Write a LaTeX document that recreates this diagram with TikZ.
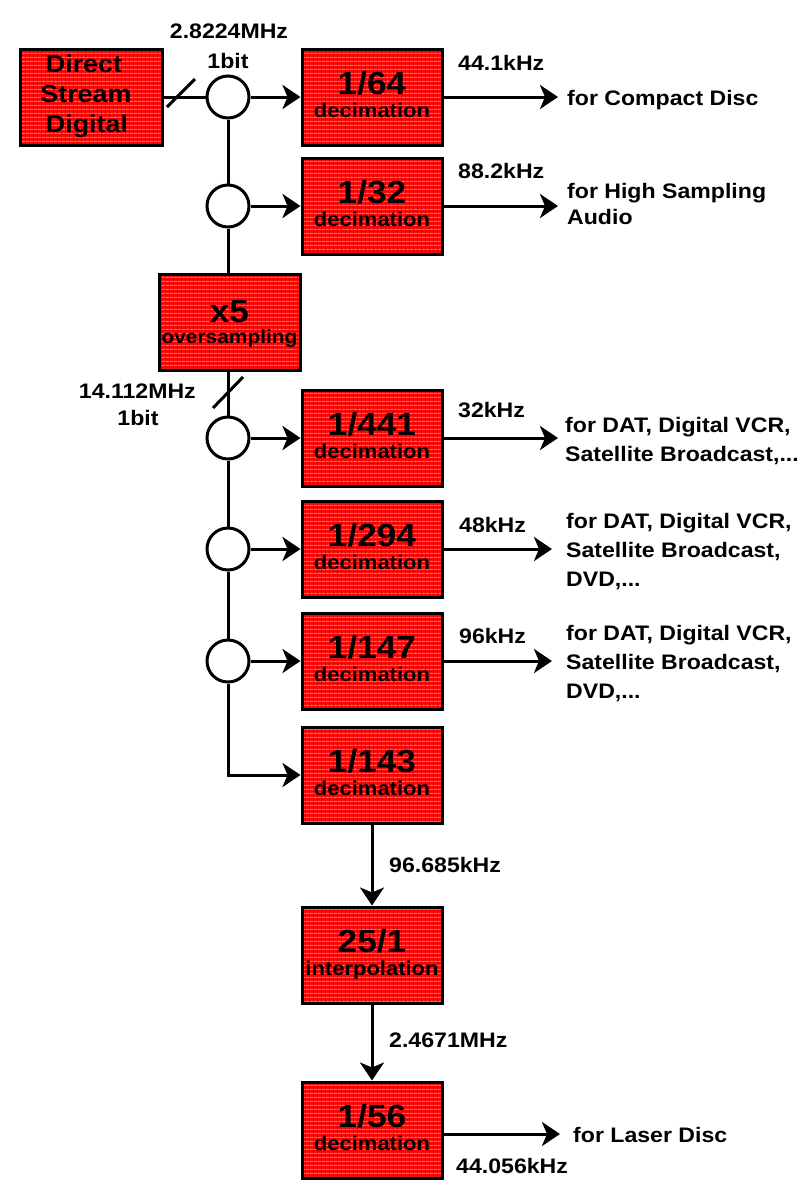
\documentclass[tikz,border=0pt]{standalone}
\usepackage{fontspec}
\setmainfont{Liberation Sans}[FakeStretch=1.1]
\usetikzlibrary{arrows.meta,patterns.meta,calc}
\tikzset{
  blk/.style={draw, line width=3pt, preaction={fill=red},
    pattern={Lines[angle=0,distance=4pt,line width=1.2pt]}, pattern color=gray!80,
    minimum width=140pt, minimum height=96pt, inner sep=0pt},
  circ/.style={circle, draw, line width=3pt, fill=white, minimum size=42pt, inner sep=0pt},
  ln/.style={line width=3pt},
  arr/.style={line width=3pt, -{Stealth[length=18pt,width=24pt,inset=5pt]}},
  ttl/.style={font=\fontsize{32}{32}\selectfont\bfseries, inner sep=0pt, anchor=base},
  sub/.style={font=\fontsize{20}{20}\selectfont\bfseries, inner sep=0pt, anchor=base},
  dsdt/.style={font=\fontsize{24.5}{24.5}\selectfont\bfseries, inner sep=0pt, anchor=base},
  lbl/.style={font=\fontsize{21}{21}\selectfont\bfseries, inner sep=0pt},
  rtx/.style={font=\fontsize{21}{21}\selectfont\bfseries, inner sep=0pt, anchor=base west},
}
\newcommand{\dbox}[5]{%
  \node[blk] (#1) at (#2,#3) {};
  \node[ttl] (#1t) at ($(#1.center)+(0,-2.5)$) {#4};
  \node[sub] (#1s) at ($(#1.center)+(0,20.5)$) {#5};
}
\begin{document}
\begin{tikzpicture}[x=1pt,y=-1pt]
\useasboundingbox[fill=white] (0,0) rectangle (800,1189);
% source
\node[blk, minimum width=142pt] (dsd) at (91,97) {};
\node[dsdt] (dsd1) at ($(dsd.center)+(-7,-25)$) {Direct};
\node[dsdt] (dsd2) at ($(dsd.center)+(-5,5)$) {Stream};
\node[dsdt] (dsd3) at ($(dsd.center)+(-4,35)$) {Digital};
% blocks
\dbox{b64}{372}{97}{1/64}{decimation}
\dbox{b32}{372}{206}{1/32}{decimation}
\node[blk, minimum width=141pt] (x5) at (229.5,322) {};
\node[ttl] (x5t) at ($(x5.center)+(0,0.5)$) {x5};
\node[sub, font=\fontsize{19}{19}\selectfont\bfseries] (x5s) at ($(x5.center)+(0,21)$) {oversampling};
\dbox{b441}{372}{438}{1/441}{decimation}
\dbox{b294}{372}{549}{1/294}{decimation}
\dbox{b147}{372}{661}{1/147}{decimation}
\dbox{b143}{372}{775}{1/143}{decimation}
\dbox{b25}{372}{955}{25/1}{interpolation}
\dbox{b56}{372}{1130}{1/56}{decimation}
% junctions
\node[circ] (c1) at (228,97) {};
\node[circ] (c2) at (228,206) {};
\node[circ] (c3) at (228,438) {};
\node[circ] (c4) at (228,549) {};
\node[circ] (c5) at (228,661) {};
% connectors
\draw[ln] (dsd.east) -- (c1.west);
\coordinate (s1a) at (167,107); \coordinate (s1b) at (195,79);
\draw[ln] (s1a) -- (s1b);
\draw[arr] (c1.east) -- (b64.west);
\draw[ln] (c1.south) -- (c2.north);
\draw[arr] (c2.east) -- (b32.west);
\draw[ln] (c2.south) -- (c2.south |- x5.north);
\draw[ln] (c3.north |- x5.south) -- (c3.north);
\coordinate (s2a) at (213,408); \coordinate (s2b) at (243,377);
\draw[ln] (s2a) -- (s2b);
\draw[arr] (c3.east) -- (b441.west);
\draw[ln] (c3.south) -- (c4.north);
\draw[arr] (c4.east) -- (b294.west);
\draw[ln] (c4.south) -- (c5.north);
\draw[arr] (c5.east) -- (b147.west);
\draw[arr] (c5.south) |- (b143.west);
\draw[arr] (b143.south) -- (b25.north);
\draw[arr] (b25.south) -- (b56.north);
% outputs
\coordinate (o64) at (558,97);
\coordinate (o32) at (558,206);
\coordinate (o441) at (558,438);
\coordinate (o294) at (552,549);
\coordinate (o147) at (552,661);
\coordinate (o56s) at (442,1134);
\coordinate (o56) at (560,1134);
\draw[arr] (b64.east) -- (o64);
\draw[arr] (b32.east) -- (o32);
\draw[arr] (b441.east) -- (o441);
\draw[arr] (b294.east) -- (o294);
\draw[arr] (b147.east) -- (o147);
\draw[arr] (o56s) -- (o56);
% labels
\node[lbl, anchor=base] (f1) at (229,38) {2.8224MHz};
\node[lbl, anchor=base] (f1b) at (228,68) {1bit};
\node[lbl, anchor=base east] (f2) at (196,398) {14.112MHz};
\node[lbl, anchor=base] (f2b) at (138,425) {1bit};
\node[lbl, anchor=base west] (l64) at (458,70) {44.1kHz};
\node[lbl, anchor=base west] (l32) at (458,178) {88.2kHz};
\node[lbl, anchor=base west] (l441) at (458,417) {32kHz};
\node[lbl, anchor=base west] (l294) at (459,532) {48kHz};
\node[lbl, anchor=base west] (l147) at (459,643) {96kHz};
\node[lbl, anchor=base west] (l143) at (389,872) {96.685kHz};
\node[lbl, anchor=base west] (l25) at (389,1047) {2.4671MHz};
\node[lbl, anchor=base west] (l56) at (456,1173) {44.056kHz};
% destinations
\node[rtx] (d64) at (567,105) {for Compact Disc};
\node[rtx] (d32a) at (567,198) {for High Sampling};
\node[rtx] (d32b) at (567,224) {Audio};
\node[rtx] (d441a) at (565,432) {for DAT, Digital VCR,};
\node[rtx] (d441b) at (565,461) {Satellite Broadcast,...};
\node[rtx] (d294a) at (566,528) {for DAT, Digital VCR,};
\node[rtx] (d294b) at (566,557) {Satellite Broadcast,};
\node[rtx] (d294c) at (566,586) {DVD,...};
\node[rtx] (d147a) at (566,640) {for DAT, Digital VCR,};
\node[rtx] (d147b) at (566,669) {Satellite Broadcast,};
\node[rtx] (d147c) at (566,698) {DVD,...};
\node[rtx] (d56) at (573,1142) {for Laser Disc};
\end{tikzpicture}
\end{document}
